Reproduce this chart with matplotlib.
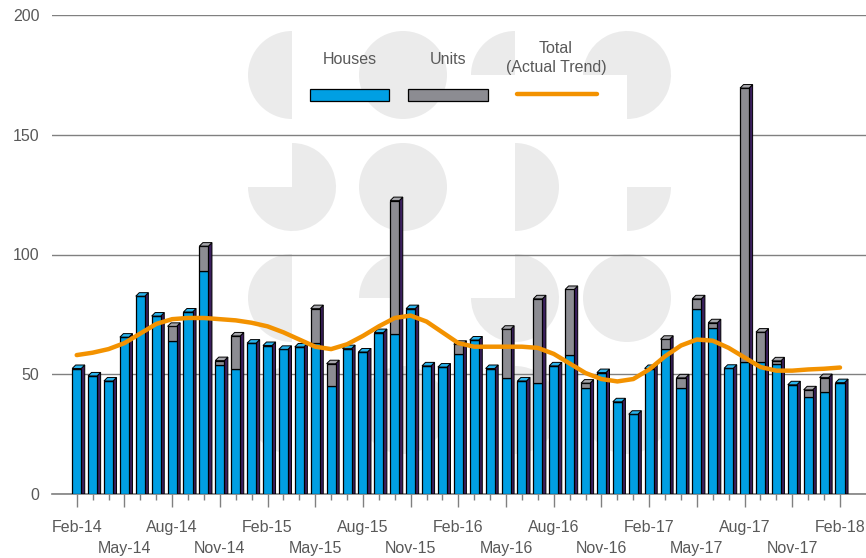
import matplotlib
matplotlib.use("Agg")
import matplotlib.pyplot as plt
from matplotlib.patches import Polygon, Wedge, Rectangle
from matplotlib.lines import Line2D

plt.rcParams['font.family'] = ['Liberation Sans', 'DejaVu Sans']

months = ["Feb-14", "Mar-14", "Apr-14", "May-14", "Jun-14", "Jul-14", "Aug-14", "Sep-14",
          "Oct-14", "Nov-14", "Dec-14", "Jan-15", "Feb-15", "Mar-15", "Apr-15", "May-15",
          "Jun-15", "Jul-15", "Aug-15", "Sep-15", "Oct-15", "Nov-15", "Dec-15", "Jan-16",
          "Feb-16", "Mar-16", "Apr-16", "May-16", "Jun-16", "Jul-16", "Aug-16", "Sep-16",
          "Oct-16", "Nov-16", "Dec-16", "Jan-17", "Feb-17", "Mar-17", "Apr-17", "May-17",
          "Jun-17", "Jul-17", "Aug-17", "Sep-17", "Oct-17", "Nov-17", "Dec-17", "Jan-18",
          "Feb-18"]

houses = [52.4, 49.3, 47.2, 65.5, 82.6, 74.3, 64.0, 76.0, 93.0, 54.0, 52.0, 63.0, 62.0,
          60.4, 61.4, 63.2, 45.0, 60.7, 59.3, 67.4, 67.0, 77.4, 53.5, 53.0, 58.3, 64.3,
          52.4, 48.3, 47.2, 46.3, 53.5, 58.0, 44.4, 50.7, 38.5, 33.3, 52.4, 60.4, 44.4,
          77.4, 69.4, 52.5, 55.3, 55.3, 54.4, 45.6, 40.3, 42.4, 46.5]

units = [0, 0, 0, 0, 0, 0, 6.0, 0, 10.5, 1.7, 14.0, 0, 0,
         0, 0, 14.2, 9.4, 0, 0, 0, 55.5, 0, 0, 0, 4.2, 0,
         0, 20.5, 0, 35.2, 0, 27.4, 1.9, 0, 0, 0, 0, 4.2, 4.1,
         4.1, 2.1, 0, 114.2, 12.3, 1.2, 0, 3.2, 6.2, 0]

trend = [58.0, 59.0, 60.5, 63.0, 67.0, 71.0, 73.0, 73.5, 73.5, 73.0, 72.5, 71.5, 70.0,
         67.5, 64.5, 61.5, 60.5, 62.5, 66.0, 70.0, 73.5, 74.5, 72.0, 67.5, 63.0, 61.5,
         61.5, 61.5, 61.5, 61.0, 58.5, 54.5, 50.5, 48.0, 47.0, 48.0, 52.0, 57.5, 62.0,
         64.5, 64.0, 61.0, 57.0, 53.0, 51.5, 51.5, 52.0, 52.3, 52.8]

yticks = [0, 50, 100, 150, 200]

BLUE = '#009fe3'
BLUE_TOP = '#2ab4ee'
GREY = '#8c8c92'
GREY_TOP = '#a6a6ab'
SIDE = '#3b1f5e'
ORANGE = '#f39200'
TXT = '#595959'
GRID = '#808080'
WM = '#ebebeb'

W, H = 866, 558
fig = plt.figure(figsize=(W / 100, H / 100), dpi=100)

# ---- watermark (background) ----
bg = fig.add_axes([0, 0, 1, 1], zorder=0)
bg.set_xlim(0, W)
bg.set_ylim(0, H)
bg.axis('off')
R = 44
cols = [292, 403, 515, 627]
rows = [75, 187, 298, 410]
shapes = {
    (0, 0): (90, 270), (0, 1): (0, 360), (0, 2): (90, 180), (0, 3): (-90, 180),
    (1, 0): (-180, 90), (1, 1): (0, 360), (1, 2): (-90, 90), (1, 3): (-90, 0),
    (2, 0): (90, 270), (2, 1): (90, 180), (2, 2): (-180, 90), (2, 3): (0, 360),
    (3, 0): (90, 270), (3, 1): (0, 360), (3, 2): (-90, 90), (3, 3): (180, 360),
}
for (r, c), (t1, t2) in shapes.items():
    bg.add_patch(Wedge((cols[c], H - rows[r]), R, t1, t2, color=WM, lw=0))

# ---- main axes ----
ax = fig.add_axes([52 / W, 1 - 494 / H, (W - 52) / W, (494 - 15) / H], zorder=1)
ax.patch.set_alpha(0)
x = list(range(len(months)))
px_per = (840 - 76.7) / 48
ax.set_xlim(-(76.7 - 52) / px_per, (W - 76.7) / px_per)
ax.set_ylim(0, 200)

bw = 0.57
dx = 3.5 / px_per
dy = 3.5 / (479 / 200)

ax.bar(x, houses, width=bw, color=BLUE, edgecolor='black', linewidth=0.9, zorder=3)
ax.bar(x, units, width=bw, bottom=houses, color=GREY, edgecolor='black', linewidth=0.9, zorder=3)
for i in x:
    h = houses[i]
    u = units[i]
    top = h + u
    xl = i - bw / 2
    xr = i + bw / 2
    ax.add_patch(Polygon([(xr, 0), (xr + dx, 0), (xr + dx, top + dy), (xr, top)],
                         closed=True, facecolor=SIDE, edgecolor='black', lw=0.7, zorder=2.9))
    capc = GREY_TOP if u > 0 else BLUE_TOP
    ax.add_patch(Polygon([(xl, top), (xl + dx, top + dy), (xr + dx, top + dy), (xr, top)],
                         closed=True, facecolor=capc, edgecolor='black', lw=0.7, zorder=3.1))

ax.plot(x, trend, color=ORANGE, lw=3.2, solid_joinstyle='round', solid_capstyle='round', zorder=4)

ax.set_yticks(yticks)
ax.set_yticklabels([str(v) for v in yticks])
ax.yaxis.grid(True, color=GRID, lw=1)
ax.set_axisbelow(True)
ax.tick_params(axis='y', length=0, pad=9, labelsize=11.5, labelcolor=TXT)

major = list(range(0, len(months), 3))
labels = []
for k, i in enumerate(major):
    labels.append(months[i] if k % 2 == 0 else "\n" + months[i])
ax.set_xticks(major)
ax.set_xticklabels(labels)
ax.set_xticks(x, minor=True)
ax.tick_params(axis='x', which='major', length=9.5, width=1, color=GRID, pad=9,
               labelsize=11.5, labelcolor=TXT)
ax.tick_params(axis='x', which='minor', length=4.5, width=1, color=GRID)
for t in ax.get_xticklabels():
    t.set_linespacing(1.5)

for s in ['left', 'right', 'top']:
    ax.spines[s].set_visible(False)
ax.spines['bottom'].set_color(GRID)
ax.spines['bottom'].set_linewidth(1.2)

# ---- legend overlay ----
lg = fig.add_axes([0, 0, 1, 1], zorder=2)
lg.set_xlim(0, W)
lg.set_ylim(H, 0)
lg.axis('off')
lg.add_patch(Rectangle((310, 89), 79, 12, facecolor=BLUE, edgecolor='black', lw=0.9))
lg.add_patch(Rectangle((408, 89), 80, 12, facecolor=GREY, edgecolor='black', lw=0.9))
lg.add_line(Line2D([517, 597], [94, 94], color=ORANGE, lw=3.2, solid_capstyle='round'))
lg.text(350, 59, "Houses", ha='center', va='center', fontsize=11.5, color=TXT)
lg.text(448, 59, "Units", ha='center', va='center', fontsize=11.5, color=TXT)
lg.text(556, 58, "Total\n(Actual Trend)", ha='center', va='center', fontsize=11.5,
        color=TXT, linespacing=1.35)

fig.savefig("out.png", dpi=100)
